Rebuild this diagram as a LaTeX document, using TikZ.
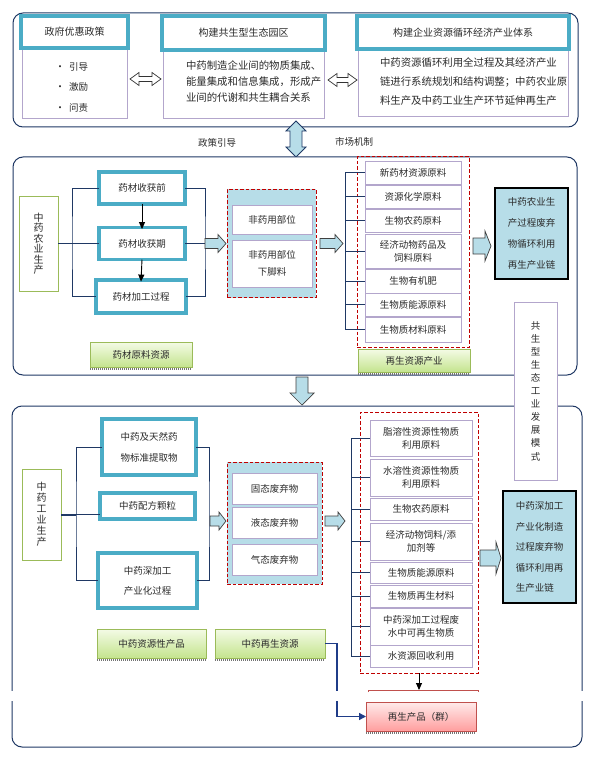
\documentclass[tikz,border=0pt]{standalone}
\usepackage{fontspec}
\setmainfont{Noto Sans CJK SC}
\usetikzlibrary{arrows.meta,calc}
\definecolor{tealb}{HTML}{4BACC6}
\definecolor{lav}{HTML}{B3A6CC}
\definecolor{lblue}{HTML}{B7DDE8}
\definecolor{navy}{HTML}{1F3864}
\definecolor{grnb}{HTML}{9BBB59}
\definecolor{grnt}{HTML}{F4FBE6}
\definecolor{grnbot}{HTML}{C4E48E}
\definecolor{redd}{HTML}{C00000}
\definecolor{redb}{HTML}{C0504D}
\definecolor{txt}{HTML}{2B2B2B}
\definecolor{bline}{HTML}{1F3C88}
\newcommand\fatR[6]{\draw[fat] (#1,#3-#4) -- (#2-#6,#3-#4) -- (#2-#6,#3-#5) -- (#2,#3) -- (#2-#6,#3+#5) -- (#2-#6,#3+#4) -- (#1,#3+#4) -- cycle;}
\newcommand\dblH[3]{\draw[dblst] (#1,#3) -- (#1+9,#3-6.5) -- (#1+9,#3-2.5) -- (#2-9,#3-2.5) -- (#2-9,#3-6.5) -- (#2,#3) -- (#2-9,#3+6.5) -- (#2-9,#3+2.5) -- (#1+9,#3+2.5) -- (#1+9,#3+6.5) -- cycle;}
\begin{document}
\begin{tikzpicture}[x=1pt,y=-1pt,
  every node/.style={inner sep=0pt,outer sep=0pt,text=txt,font=\fontsize{9.5}{12}\selectfont},
  panel/.style={draw=navy,line width=1pt,rounded corners=10pt,fill=white},
  hdr/.style={draw=tealb,line width=3.6pt,fill=white,align=center},
  hdrtop/.style={hdr,font=\fontsize{10}{12}\selectfont},
  body/.style={draw=lav,line width=0.8pt,fill=white,align=center},
  item/.style={draw=lav,line width=0.8pt,fill=white,align=center,font=\fontsize{9.5}{13}\selectfont},
  vbox/.style={line width=0.8pt,fill=white,align=center},
  glab/.style={draw=grnb,line width=0.8pt,top color=grnt,bottom color=grnbot},
  dbox/.style={draw=redd,line width=1pt,dash pattern=on 3.5pt off 2pt},
  bluebx/.style={draw=black,line width=1.1pt,fill=lblue,align=left},
  conn/.style={draw=navy,line width=0.9pt},
  fat/.style={fill=lblue,draw=black!75,line width=0.7pt},
  dblst/.style={fill=white,draw=black!80,line width=0.7pt},
  shadowl/.style={draw=black!55,line width=2.2pt,dash pattern=on 1pt off 1pt}]
\useasboundingbox (0,0) rectangle (594,759);
\fill[white] (0,0) rectangle (594,759);

% ---------------- top panel ----------------
\draw[panel] (13,13) rectangle (578,127);
\node[body,minimum width=105pt,minimum height=70pt] (p1b) at (74.5,83) {};
\node[hdrtop,minimum width=107pt,minimum height=32pt] (p1) at (74.5,32) {政府优惠政策};
\node[anchor=west] (bl1) at (55,67) {{\fontsize{10}{10}\selectfont •}\hspace{4pt}引导};
\node[anchor=west] (bl2) at (55,87) {{\fontsize{10}{10}\selectfont •}\hspace{4pt}激励};
\node[anchor=west] (bl3) at (55,108) {{\fontsize{10}{10}\selectfont •}\hspace{4pt}问责};

\node[body,minimum width=161pt,minimum height=68pt] (p2b) at (243.5,84) {};
\node[hdrtop,minimum width=163pt,minimum height=34pt] (p2) at (243.5,33) {构建共生型生态园区};
\node[anchor=west,align=left,font=\fontsize{10.4}{16}\selectfont] (p2t) at (186,81.5) {中药制造企业间的物质集成、\\能量集成和信息集成，形成产\\业间的代谢和共生耦合关系};

\node[body,minimum width=210pt,minimum height=67pt] (p3b) at (463,82.5) {};
\node[hdrtop,minimum width=212pt,minimum height=33pt] (p3) at (463,32.5) {构建企业资源循环经济产业体系};
\node[anchor=west,align=left,font=\fontsize{10.4}{19}\selectfont] (p3t) at (380,81.5) {中药资源循环利用全过程及其经济产业\\链进行系统规划和结构调整；中药农业原\\料生产及中药工业生产环节延伸再生产};

\dblH{130}{161}{79}
\dblH{328}{357}{80}

% vertical double arrow
\draw[fill=lblue,draw=navy,line width=0.8pt] (296,121) -- (306,131) -- (302,131) -- (302,147) -- (306,147) -- (296,157) -- (286,147) -- (290,147) -- (290,131) -- (286,131) -- cycle;
\node (lz) at (217,143) {政策引导};
\node (lsc) at (354,142) {市场机制};

% ---------------- middle panel ----------------
\draw[panel] (13,157) rectangle (577,375);
\node[vbox,draw=grnb,minimum width=39pt,minimum height=95pt,font=\fontsize{10}{10.5}\selectfont] (agri) at (38.5,243.5) {中\\药\\农\\业\\生\\产};
\node[hdr,minimum width=86pt,minimum height=32pt] (b1) at (142,188) {药材收获前};
\node[hdr,minimum width=86pt,minimum height=32pt] (b2) at (142,243.5) {药材收获期};
\node[hdr,minimum width=90pt,minimum height=33pt] (b3) at (141,296.5) {药材加工过程};
\coordinate (jm) at (72,243.5);
\coordinate (jr) at (205,243.5);
\draw[conn] (agri.east) -- (b2.west);
\draw[conn] (b1.west) -| (jm) |- (b3.west);
\draw[conn] (b1.east) -| (jr) |- (b3.east);
\draw[conn] (b2.east) -- (jr);
\draw[-{Triangle[length=7pt,width=6pt]},line width=0.9pt] (b1.south) -- ([yshift=-1.6pt]b2.north);
\draw[-{Triangle[length=7pt,width=6pt]},line width=0.9pt] (b2.south) -- ([yshift=-1.6pt]b3.north);

\node[dbox,fill=lblue,minimum width=89pt,minimum height=108pt] (d1) at (271.5,243.5) {};
\node[body,minimum width=80pt,minimum height=29pt] (n1) at (272,219.5) {非药用部位};
\node[body,minimum width=80pt,minimum height=47pt,font=\fontsize{9.5}{17}\selectfont] (n2) at (272,263.5) {非药用部位\\下脚料};
\fatR{205}{226}{243.5}{5}{9}{8}
\fatR{320}{343}{243.5}{5}{9}{8}

\node[dbox,minimum width=112pt,minimum height=190pt] (d2) at (413,252) {};
\node[item,minimum width=96pt,minimum height=23pt] (i1) at (413,172.5) {新药材资源原料};
\node[item,minimum width=96pt,minimum height=23pt] (i2) at (413,196.5) {资源化学原料};
\node[item,minimum width=96pt,minimum height=23pt] (i3) at (413,220.5) {生物农药原料};
\node[item,minimum width=96pt,minimum height=34pt] (i4) at (413,251) {经济动物药品及\\饲料原料};
\node[item,minimum width=96pt,minimum height=24pt] (i5) at (413,281) {生物有机肥};
\node[item,minimum width=96pt,minimum height=23pt] (i6) at (413,304.5) {生物质能源原料};
\node[item,minimum width=96pt,minimum height=25pt] (i7) at (413,329.5) {生物质材料原料};
\draw[conn] ([xshift=-20pt]i1.west) -- ([xshift=-20pt]i7.west);
\foreach \n in {i1,i2,i3,i4,i5,i6,i7} \draw[conn] ([xshift=-20pt]\n.west) -- (\n.west);

\node[glab,minimum width=112pt,minimum height=23pt] (g3) at (414,360.5) {再生资源产业};
\draw[shadowl] ([yshift=-1.6pt]g3.south west) -- ([yshift=-1.6pt]g3.south east);
\node[glab,minimum width=102pt,minimum height=25pt] (g0) at (141,354.5) {药材原料资源};
\draw[shadowl] ([yshift=-1.6pt]g0.south west) -- ([yshift=-1.6pt]g0.south east);

\fatR{473}{491}{246}{8}{15}{6}
\node[bluebx,minimum width=73pt,minimum height=91pt,font=\fontsize{9.5}{21}\selectfont] (ba) at (531.5,233.5) {中药农业生\\产过程废弃\\物循环利用\\再生产业链};

% ---------------- bottom panel ----------------
\draw[panel] (12,406) rectangle (582,747);
\draw[fat] (296,377) -- (308,377) -- (308,393) -- (314,393) -- (302,405) -- (290,393) -- (296,393) -- cycle;

\node[vbox,draw=lav,minimum width=43pt,minimum height=178pt,font=\fontsize{9.5}{13.1}\selectfont] (gy) at (535.5,391) {共\\生\\型\\生\\态\\工\\业\\发\\展\\模\\式};

\node[vbox,draw=grnb,minimum width=39pt,minimum height=91pt,font=\fontsize{10}{11}\selectfont] (ind) at (41.5,514.5) {中\\药\\工\\业\\生\\产};
\node[hdr,minimum width=94pt,minimum height=56pt,font=\fontsize{9.5}{21}\selectfont] (c1) at (149,447) {中药及天然药\\物标准提取物};
\node[hdr,minimum width=95pt,minimum height=26pt] (c2) at (147.5,506) {中药配方颗粒};
\node[hdr,minimum width=99pt,minimum height=55pt,font=\fontsize{9.5}{20}\selectfont] (c3) at (147.5,580.5) {中药深加工\\产业化过程};
\coordinate (km) at (76,514.5);
\coordinate (kr) at (209,514.5);
\draw[navy,line width=2pt] (ind.east) -- (km);
\draw[conn] (km) -- (c2.west |- km);
\draw[conn] (c1.west) -| (km) |- (c3.west);
\draw[conn] (c1.east) -| (kr) |- (c3.east);

\node[dbox,fill=lblue,minimum width=95pt,minimum height=122pt] (d3) at (274.5,523) {};
\node[body,minimum width=85pt,minimum height=31pt] (w1) at (274.5,488.5) {固态废弃物};
\node[body,minimum width=85pt,minimum height=31pt] (w2) at (274.5,522.5) {液态废弃物};
\node[body,minimum width=85pt,minimum height=31pt] (w3) at (274.5,559.5) {气态废弃物};
\fatR{210}{226}{521}{5}{9}{7}
\fatR{325}{345}{521}{5}{9}{7}

\node[dbox,minimum width=118pt,minimum height=261pt] (d4) at (419,542.5) {};
\node[item,minimum width=102pt,minimum height=36pt] (j1) at (421,438) {脂溶性资源性物质\\利用原料};
\node[item,minimum width=102pt,minimum height=37pt] (j2) at (421,477.5) {水溶性资源性物质\\利用原料};
\node[item,minimum width=102pt,minimum height=22pt] (j3) at (421,509) {生物农药原料};
\node[item,minimum width=102pt,minimum height=37pt] (j4) at (421,541.5) {经济动物饲料/添\\加剂等};
\node[item,minimum width=102pt,minimum height=21pt] (j5) at (421,572.5) {生物质能源原料};
\node[item,minimum width=102pt,minimum height=22pt] (j6) at (421,596) {生物质再生材料};
\node[item,minimum width=102pt,minimum height=37pt] (j7) at (421,626.5) {中药深加工过程废\\水中可再生物质};
\node[item,minimum width=102pt,minimum height=22pt] (j8) at (421,656) {水资源回收利用};
\draw[conn] ([xshift=-19pt]j1.west) -- ([xshift=-19pt]j8.west);
\foreach \n in {j1,j2,j3,j4,j5,j6,j7,j8} \draw[conn] ([xshift=-19pt]\n.west) -- (\n.west);

\fatR{480}{501}{558}{8}{16}{5}
\node[bluebx,minimum width=73pt,minimum height=112pt,font=\fontsize{9.5}{20.5}\selectfont] (bb) at (539.5,547) {中药深加工\\产业化制造\\过程废弃物\\循环利用再\\生产业链};

\node[glab,minimum width=109pt,minimum height=29pt] (g1) at (151.5,643.5) {中药资源性产品};
\draw[shadowl] ([yshift=-1.6pt]g1.south west) -- ([yshift=-1.6pt]g1.south east);
\node[glab,minimum width=110pt,minimum height=29pt] (g2) at (270,643.5) {中药再生资源};
\draw[shadowl] ([yshift=-1.6pt]g2.south west) -- ([yshift=-1.6pt]g2.south east);

\node[draw=redb,line width=0.8pt,top color=red!8,bottom color=red!38,minimum width=110pt,minimum height=29pt] (R) at (421,716.5) {再生产品（群）};
\draw[shadowl] ([yshift=-1.6pt]R.south west) -- ([yshift=-1.6pt]R.south east);
\coordinate (rtop) at (d4.south |- 0,690);
\draw[-{Triangle[length=7pt,width=6pt]},line width=0.9pt] (d4.south) -- (rtop);
\draw[bline,line width=1.3pt,-{Triangle[length=7pt,width=7pt]}] (g2.east) -- ++(12,0) |- (R.west);

% page-break gap
\fill[white] (0,691) rectangle (594,701);
\draw[redb,line width=0.8pt] (368,692) -- (368,690) -- (478,690) -- (478,692);
\draw[redb,line width=0.8pt] (R.north west) -- (R.north east);
\end{tikzpicture}
\end{document}
